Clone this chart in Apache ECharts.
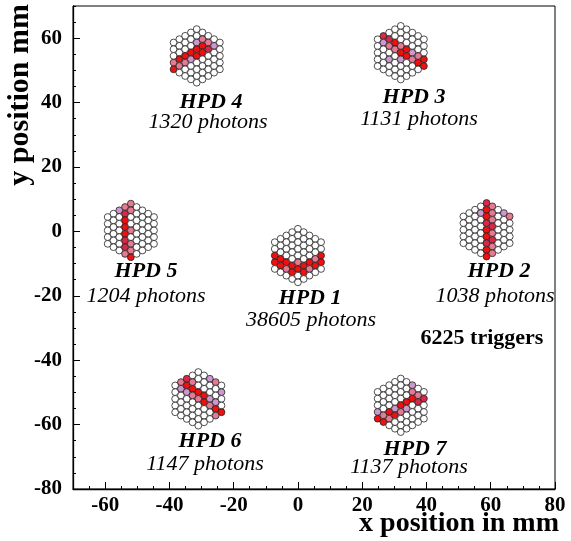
<!DOCTYPE html>
<html><head><meta charset="utf-8">
<script src="https://cdn.jsdelivr.net/npm/echarts@6/dist/echarts.min.js"></script>
<style>html,body{margin:0;padding:0;background:#fff}#c{width:571px;height:541px}</style>
</head><body><div id="c"></div>
<script>
// ---- data ----
const hpdNames   = ['HPD 1', 'HPD 2', 'HPD 3', 'HPD 4', 'HPD 5', 'HPD 6', 'HPD 7'];
const hpdPhotons = [38605, 1038, 1131, 1320, 1204, 1147, 1137];
const hpdCenterX = [0, 58.7, 32, -31.5, -52, -31, 32];
const hpdCenterY = [-7.5, 0.5, 55.5, 54.5, 0.3, -52, -54];
const triggerCount = 6225;
// pixel hit maps: one string per pixel column (left to right), cells top to bottom
// '.' no hit, 'v' low, 'k' medium, 'c' high, 'r' highest
const hpd1Hits = ['..rr.', '...rr.', '....rk.', '.....rr.', '.....kr..', '.....rr.', '....rk.', '...kr.', '..rr.'];
const hpd2Hits = ['.....', '......', '.......', '.v......', 'crrcrrcrr', 'kkkckckk', '.......', 'v.....', 'k....'];
const hpd3Hits = ['.....', 'cv....', '.ck.v..', '..rk....', '...krv...', '...rr...', '...vk..', '...kr.', '...rr'];
const hpd4Hits = ['...kr', '...rk.', '...rk..', '...rv...', '..vrr....', '.krr....', '.kc....', '.v....', '.....'];
const hpd5Hits = ['.....', '......', 'v......', 'kcrrrcck', 'kk..k.kkr', '........', '.......', '......', '.....'];
const hpd6Hits = ['.....', 'kv....', 'crv....', '.krk....', '...rk....', '...rr...', 'v..vk..', 'k..vrk', '.v..r'];
const hpd7Hits = ['...vr', '....kr', '....rk.', '....vr..', '....rk...', '...rv...', 'vkr....', '.kc...', '.c...'];
const hpdHits = [hpd1Hits, hpd2Hits, hpd3Hits, hpd4Hits, hpd5Hits, hpd6Hits, hpd7Hits];
// axis ticks
const xTickLabels = [-60, -40, -20, 0, 20, 40, 60, 80];
const yTickLabels = [-80, -60, -40, -20, 0, 20, 40, 60];
const xMinorTicks = [-70,-65,-60,-55,-50,-45,-40,-35,-30,-25,-20,-15,-10,-5,0,5,10,15,20,25,30,35,40,45,50,55,60,65,70,75,80];
const yMinorTicks = [-80,-75,-70,-65,-60,-55,-50,-45,-40,-35,-30,-25,-20,-15,-10,-5,0,5,10,15,20,25,30,35,40,45,50,55,60,65,70];

// ---- styling / geometry ----
const levelColor = { '.': '#ffffff', 'v': '#cc99cc', 'k': '#e57a93', 'c': '#d8284a', 'r': '#f01010' };
const pitch = 2.08;                       // pixel pitch (mm)
const colPitch = pitch * Math.sqrt(3) / 2;

const points = [];
hpdHits.forEach((cols, h) => {
  cols.forEach((str, ci) => {
    const c = ci - 4;
    const n = 9 - Math.abs(c);
    for (let i = 0; i < n; i++) {
      const off = (n - 1) / 2 - i;
      const lv = str[i] || '.';
      points.push({
        value: [hpdCenterX[h] + c * colPitch, hpdCenterY[h] + off * pitch],
        itemStyle: { color: levelColor[lv] }
      });
    }
  });
});

const serif = 'Liberation Serif, Times New Roman, serif';
const labelPos = [ // [x, yName, xPhot, yPhot] in pixels
  [310, 298, 311, 320],
  [499, 271, 495, 296],
  [414, 97, 419, 119],
  [211, 102, 208, 122],
  [146, 271, 146, 296],
  [210, 441, 205, 464],
  [415, 449, 409, 467]
];
const graphics = [];
hpdNames.forEach((nm, i) => {
  const p = labelPos[i];
  graphics.push({ type: 'text', silent: true, style: { text: nm, x: p[0], y: p[1], align: 'center', verticalAlign: 'middle',
    font: 'italic bold 22px ' + serif, fill: '#000' } });
  graphics.push({ type: 'text', silent: true, style: { text: hpdPhotons[i] + ' photons', x: p[2], y: p[3], align: 'center', verticalAlign: 'middle',
    font: 'italic 22px ' + serif, fill: '#000' } });
});
graphics.push({ type: 'text', silent: true, style: { text: triggerCount + ' triggers', x: 482, y: 338, align: 'center', verticalAlign: 'middle',
  font: 'bold 22px ' + serif, fill: '#000' } });
graphics.push({ type: 'text', silent: true, style: { text: 'x position in mm', x: 559, y: 524, align: 'right', verticalAlign: 'middle',
  font: 'bold 28px ' + serif, fill: '#000' } });
graphics.push({ type: 'text', silent: true, x: 20, y: 4, rotation: Math.PI / 2, style: { text: 'y position mm', x: 0, y: 0, align: 'right', verticalAlign: 'middle',
  font: 'bold 30px ' + serif, fill: '#000' } });

const labelStyle = { fontFamily: serif, fontWeight: 'bold', fontSize: 21, color: '#000' };
const chart = echarts.init(document.getElementById('c'), null, { renderer: 'canvas' });
chart.setOption({
  animation: false,
  backgroundColor: '#fff',
  grid: { left: 73, right: 16, top: 6, bottom: 52, show: true, borderColor: '#000', borderWidth: 1, outerBoundsMode: 'none', containLabel: false },
  xAxis: [
    { type: 'value', min: -70, max: 80, position: 'bottom',
      axisLine: { show: true, onZero: false, lineStyle: { color: '#000', width: 1.3 } },
      axisTick: { show: true, inside: true, length: 3, customValues: xMinorTicks, lineStyle: { color: '#000' } },
      axisLabel: Object.assign({ customValues: xTickLabels, margin: 6 }, labelStyle),
      splitLine: { show: false } },
    { type: 'value', min: -70, max: 80, position: 'bottom',
      axisLine: { show: false, onZero: false },
      axisTick: { show: true, inside: true, length: 7, customValues: xTickLabels, lineStyle: { color: '#000' } },
      axisLabel: { show: false }, splitLine: { show: false } }
  ],
  yAxis: [
    { type: 'value', min: -80, max: 70, position: 'left',
      axisLine: { show: true, onZero: false, lineStyle: { color: '#000', width: 1.3 } },
      axisTick: { show: true, inside: true, length: 3, customValues: yMinorTicks, lineStyle: { color: '#000' } },
      axisLabel: Object.assign({ customValues: yTickLabels, margin: 11 }, labelStyle),
      splitLine: { show: false } },
    { type: 'value', min: -80, max: 70, position: 'left',
      axisLine: { show: false, onZero: false },
      axisTick: { show: true, inside: true, length: 7, customValues: yTickLabels, lineStyle: { color: '#000' } },
      axisLabel: { show: false }, splitLine: { show: false } }
  ],
  series: [{
    type: 'scatter', xAxisIndex: 0, yAxisIndex: 0, silent: true,
    symbol: 'circle', symbolSize: 6.8,
    itemStyle: { borderColor: '#222', borderWidth: 0.8, opacity: 1 },
    data: points
  }],
  graphic: graphics
});
</script></body></html>
